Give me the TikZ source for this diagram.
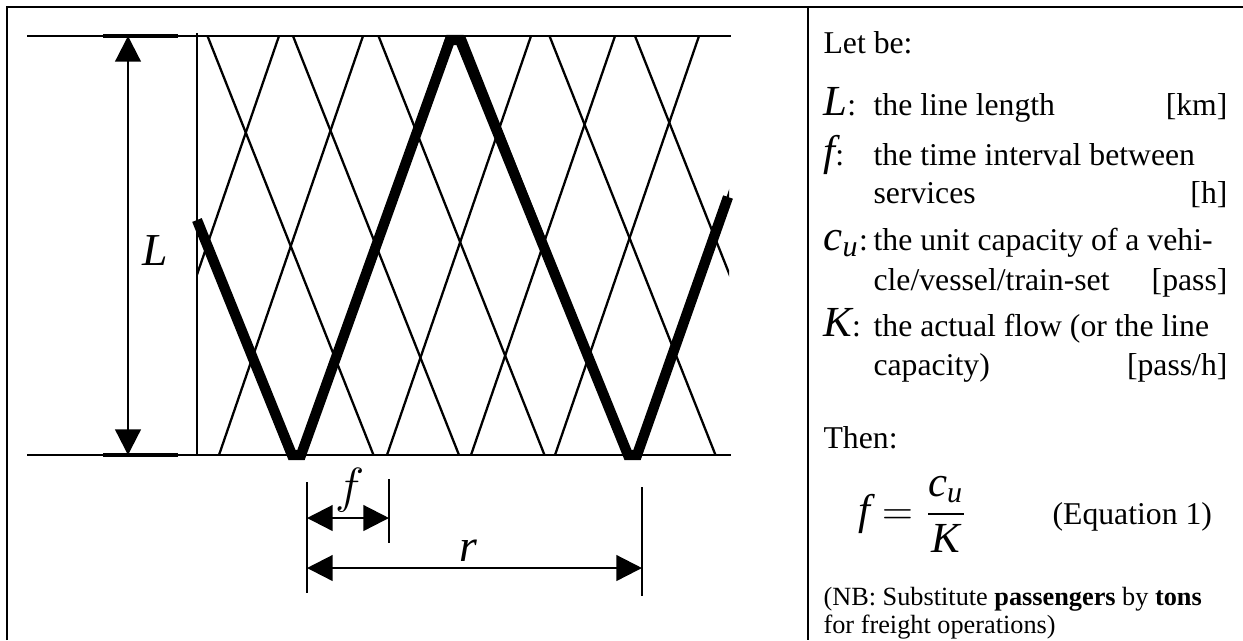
\documentclass[tikz,border=0pt]{standalone}
\usepackage{amsmath}
\usepackage{fontspec}
\setmainfont{LiberationSerif}[Extension=.ttf, UprightFont=*-Regular, ItalicFont=*-Italic,
  BoldFont=*-Bold, BoldItalicFont=*-BoldItalic]
\usetikzlibrary{arrows.meta, positioning}

\newcommand{\legColon}{{\fontsize{11.1}{13}\selectfont\upshape:}}

\tikzset{
  frameLine/.style={line width=0.9pt},
  railLine/.style={line width=0.8pt},
  trainPath/.style={line width=3.6pt},
  dimTick/.style={line width=0.8pt},
  dimArrow/.style={{Triangle[length=9pt,width=9pt]}-{Triangle[length=9pt,width=9pt]}, line width=0.8pt},
  dimLabel/.style={inner sep=0pt, font=\fontsize{16}{16}\selectfont\itshape},
  legendSym/.style={anchor=base west, inner sep=0pt, font=\fontsize{15}{15}\selectfont\itshape},
  legendText/.style={anchor=base west, inner sep=0pt, font=\fontsize{11.1}{13}\selectfont},
  legendUnit/.style={anchor=base east, inner sep=0pt, font=\fontsize{11.1}{13}\selectfont},
  noteText/.style={anchor=base west, inner sep=0pt, font=\fontsize{9.2}{10}\selectfont}
}

\begin{document}
\begin{tikzpicture}[x=0.35pt, y=-0.35pt]
  \useasboundingbox (0,0) rectangle (1243,640);

  % frame
  \draw[frameLine] (7,640) -- (7,7) -- (1243,7);
  \draw[frameLine] (808,7) -- (808,640);

  % line ends
  \coordinate (topL) at (27,36);
  \coordinate (topR) at (731,36);
  \coordinate (botL) at (27,455);
  \coordinate (botR) at (731,455);
  \draw[railLine] (topL) -- (topR);
  \draw[railLine] (botL) -- (botR);
  \draw[line width=1.1pt] (103,36) -- (178,36);
  \draw[line width=1.1pt] (103,455) -- (178,455);
  \draw[railLine] (197,33) -- (197,455);

  % services
  \begin{scope}
    \clip (197,0) rectangle (729,500);
    \foreach \k in {0,...,6} {
      \draw[railLine] ({122+85.5*\k},36) -- ({288+85.5*\k},455);
      \draw[railLine] ({135+84*\k},455) -- ({279+84*\k},36);
    }
  \end{scope}

  % one vehicle
  \draw[trainPath] (197,220) -- (292,455) -- (301,455) -- (450,40) -- (460,40)
    -- (628,455) -- (637,455) -- (728,197);

  % length
  \coordinate (Ltop) at (128,36);
  \coordinate (Lbot) at (128,455);
  \draw[dimArrow] (Ltop) -- (Lbot);
  \node[dimLabel] (Llabel) at (155,251) {L};

  % interval and cycle
  \coordinate (fStart) at (307,518);
  \coordinate (fEnd) at (389,518);
  \coordinate (rStart) at (307,568);
  \coordinate (rEnd) at (642,568);
  \draw[dimTick] (307,482) -- (307,593);
  \draw[dimTick] (389,479) -- (389,543);
  \draw[dimTick] (642,487) -- (642,596);
  \draw[dimArrow] (fStart) -- (fEnd);
  \draw[dimArrow] (rStart) -- (rEnd);
  \node[inner sep=0pt, font=\fontsize{16}{16}\selectfont] (fLabel) at (350,490) {$f$};
  \node[dimLabel] (rLabel) at (468,551) {r};

  % legend
  \node[legendText] (letBe) at (823,53) {Let be:};

  \node[legendSym] (symL) at (823,115) {L\legColon};
  \node[legendText] (txtL) at (873,115) {the line length};
  \node[legendUnit] (unitL) at (1228,115) {[km]};

  \node[legendSym] (symF) at (823,165) {f\legColon};
  \node[legendText] (txtF) at (873,165) {the time interval between};
  \node[legendText] (txtF2) at (873,203) {services};
  \node[legendUnit] (unitF) at (1228,203) {[h]};

  \node[legendSym] (symC) at (823,250) {c\textsubscript{u}\legColon};
  \node[legendText] (txtC) at (873,250) {the unit capacity of a vehi-};
  \node[legendText] (txtC2) at (873,290) {cle/vessel/train-set};
  \node[legendUnit] (unitC) at (1228,290) {[pass]};

  \node[legendSym] (symK) at (823,336) {K\legColon};
  \node[legendText] (txtK) at (873,336) {the actual flow (or the line};
  \node[legendText] (txtK2) at (873,375) {capacity)};
  \node[legendUnit] (unitK) at (1228,375) {[pass/h]};

  \node[legendText] (thenTxt) at (823,448) {Then:};
  \node[anchor=base west, inner sep=0pt, font=\fontsize{15}{15}\selectfont] (eqn) at (858,524)
    {$\displaystyle \textit{f} = \frac{\textit{c}_{\textit{u}}}{\textit{K}}$};
  \node[legendText] (eqnTag) at (1052,524) {(Equation 1)};

  \node[noteText] (note1) at (823,605) {(NB: Substitute \textbf{passengers} by \textbf{tons}};
  \node[noteText] (note2) at (823,633) {for freight operations)};
\end{tikzpicture}
\end{document}
